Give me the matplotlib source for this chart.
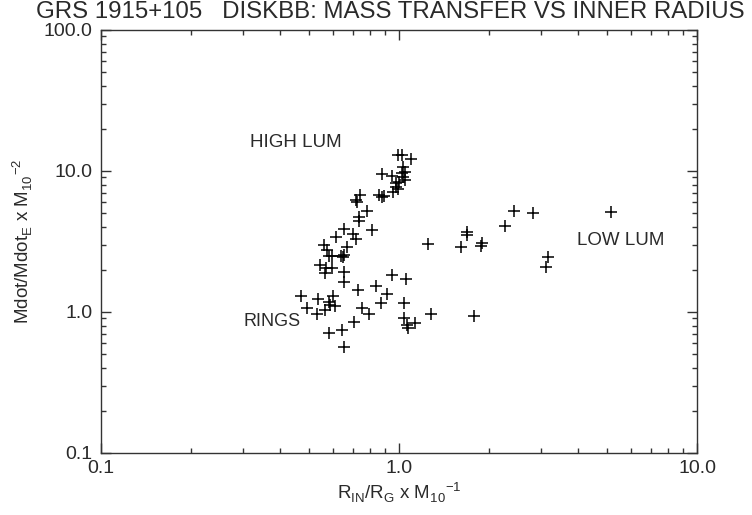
import matplotlib
matplotlib.use("Agg")
import matplotlib.pyplot as plt
from matplotlib.ticker import FixedLocator, FixedFormatter, LogLocator, NullFormatter

# High-luminosity branch
high_x = [0.99, 1.02, 1.10, 1.03, 1.047, 1.02, 1.03, 1.047, 0.88, 0.95, 0.98, 1.00,
          0.975, 0.995, 0.957, 0.86, 0.88, 0.89, 0.74, 0.72, 0.725, 0.78, 0.736, 0.736,
          0.81, 0.654, 0.615, 0.70, 0.72, 0.667, 0.56, 0.574, 0.58, 0.595, 0.64, 0.65,
          0.654, 0.543, 0.569, 0.565, 0.595, 0.654, 0.654, 1.25, 1.69, 1.69, 1.61]
high_y = [13.0, 13.0, 12.2, 10.7, 9.9, 9.6, 9.1, 8.7, 9.5, 9.2, 8.2, 8.4,
          7.7, 7.5, 7.1, 6.8, 6.5, 6.6, 6.8, 6.2, 6.0, 5.2, 4.7, 4.4,
          3.8, 3.9, 3.4, 3.6, 3.3, 2.9, 3.0, 2.75, 2.5, 2.5, 2.5, 2.47,
          2.54, 2.15, 2.04, 1.88, 2.04, 1.93, 1.64, 3.04, 3.7, 3.5, 2.9]

# Low-luminosity branch
low_x = [1.90, 1.88, 2.27, 2.43, 2.82, 5.13, 3.16, 3.11, 1.79]
low_y = [3.07, 2.94, 4.07, 5.23, 5.01, 5.10, 2.47, 2.10, 0.94]

# Ring states
ring_x = [0.469, 0.536, 0.602, 0.58, 0.587, 0.61, 0.49, 0.532, 0.565, 0.727, 0.835,
          0.945, 1.055, 0.91, 0.868, 1.04, 0.75, 0.793, 0.708, 1.04, 1.06, 1.13,
          1.07, 1.28, 0.58, 0.645, 0.655]
ring_y = [1.30, 1.23, 1.30, 1.18, 1.12, 1.10, 1.06, 0.97, 1.03, 1.43, 1.54,
          1.83, 1.71, 1.34, 1.15, 1.16, 1.06, 0.97, 0.85, 0.91, 0.81, 0.84,
          0.77, 0.97, 0.71, 0.74, 0.56]

x_ticks = [0.1, 1.0, 10.0]
x_labels = ["0.1", "1.0", "10.0"]
y_ticks = [0.1, 1.0, 10.0, 100.0]
y_labels = ["0.1", "1.0", "10.0", "100.0"]

txt = "#2a2a2a"
plt.rcParams['font.family'] = ['Liberation Sans', 'DejaVu Sans']
plt.rcParams['mathtext.fontset'] = 'custom'
plt.rcParams['mathtext.rm'] = 'Liberation Sans'

fig = plt.figure(figsize=(7.52, 5.15), dpi=100)
ax = fig.add_axes([0.1343, 0.1204, 0.7926, 0.8214])

for xs, ys in [(high_x, high_y), (low_x, low_y), (ring_x, ring_y)]:
    ax.plot(xs, ys, linestyle='none', marker='+', color='black',
            markersize=8.5, markeredgewidth=1.1)

ax.set_xscale('log')
ax.set_yscale('log')
ax.set_xlim(0.1, 10.0)
ax.set_ylim(0.1, 100.0)

ax.xaxis.set_major_locator(FixedLocator(x_ticks))
ax.xaxis.set_major_formatter(FixedFormatter(x_labels))
ax.yaxis.set_major_locator(FixedLocator(y_ticks))
ax.yaxis.set_major_formatter(FixedFormatter(y_labels))
ax.xaxis.set_minor_locator(LogLocator(base=10, subs=range(2, 10)))
ax.yaxis.set_minor_locator(LogLocator(base=10, subs=range(2, 10)))
ax.xaxis.set_minor_formatter(NullFormatter())
ax.yaxis.set_minor_formatter(NullFormatter())

ax.tick_params(which='both', direction='in', top=True, right=True,
               colors='#333333', labelcolor=txt, labelsize=14)
ax.tick_params(which='major', length=7, width=1.0)
ax.tick_params(axis='x', which='major', pad=5)
ax.tick_params(axis='y', which='major', pad=6)
ax.tick_params(which='minor', length=3.5, width=1.0)
for s in ax.spines.values():
    s.set_color('#333333')
    s.set_linewidth(1.0)

fig.text(0.519, 1 - 12 / 515, "GRS 1915+105   DISKBB: MASS TRANSFER VS INNER RADIUS",
         fontsize=17.3, color=txt, ha='center', va='center')
ax.set_xlabel(r"R$_{\mathrm{IN}}$/R$_{\mathrm{G}}$ x M$_{\mathrm{10}}$$^{\mathrm{-1}}$",
              fontsize=13.5, color=txt, labelpad=3)
ax.set_ylabel(r"Mdot/Mdot$_{\mathrm{E}}$ x M$_{\mathrm{10}}$$^{\mathrm{-2}}$",
              fontsize=13.5, color=txt, labelpad=6)

ax.text(0.316, 15.8, "HIGH LUM", fontsize=13.5, color=txt, ha='left', va='center')
ax.text(3.96, 3.19, "LOW LUM", fontsize=13.5, color=txt, ha='left', va='center')
ax.text(0.30, 0.85, "RINGS", fontsize=13, color=txt, ha='left', va='center')

fig.savefig("out.png", dpi=100)
